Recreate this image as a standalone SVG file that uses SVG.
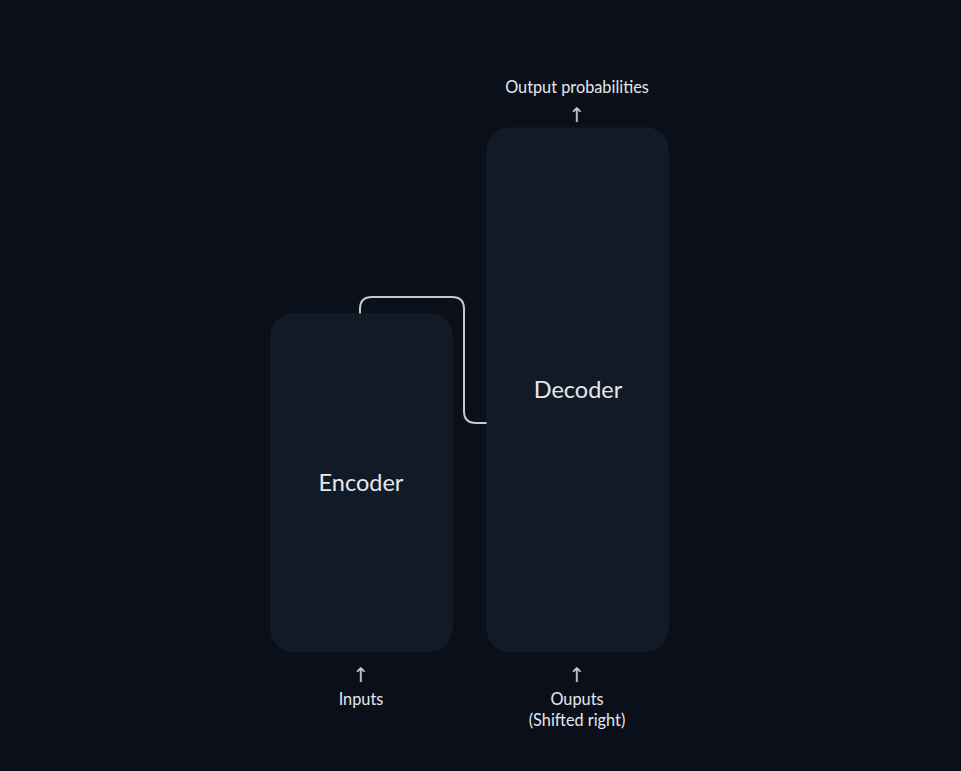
<svg xmlns="http://www.w3.org/2000/svg" width="961" height="771" viewBox="0 0 961 771">
<style>
.box{fill:#111b27;stroke:#151e29;stroke-width:1}
.t{font-family:Lato,"Noto Sans",sans-serif;fill:#e5e7eb;text-anchor:middle}
.big{font-size:23.5px}
.sm{font-size:16.3px}
.arr{font-family:"DejaVu Sans",sans-serif;font-size:20px;fill:#c9ccd1;text-anchor:middle}
.conn{fill:none;stroke:#c8c9cc;stroke-width:2}
</style>
<rect width="961" height="771" fill="#0b0f19"/>
<g id="connectors">
<path class="conn" d="M360,314 V309 Q360,297 372,297 H452 Q464,297 464,309 V411 Q464,423 476,423 H487"/>
</g>
<g id="encoder">
<rect class="box" x="271" y="314" width="181" height="337" rx="22"/>
<text class="t big" x="361" y="491">Encoder</text>
</g>
<g id="decoder">
<rect class="box" x="487" y="128" width="181" height="523" rx="22"/>
<text class="t big" x="578" y="398">Decoder</text>
</g>
<g id="output-probabilities">
<text class="t sm" x="577" y="93">Output probabilities</text>
<text class="arr" x="577" y="122">↑</text>
</g>
<g id="inputs">
<text class="arr" x="361" y="682">↑</text>
<text class="t sm" x="361" y="705">Inputs</text>
</g>
<g id="outputs-shifted">
<text class="arr" x="577" y="682">↑</text>
<text class="t sm" x="577" y="705">Ouputs</text>
<text class="t sm" x="577" y="726">(Shifted right)</text>
</g>
</svg>
